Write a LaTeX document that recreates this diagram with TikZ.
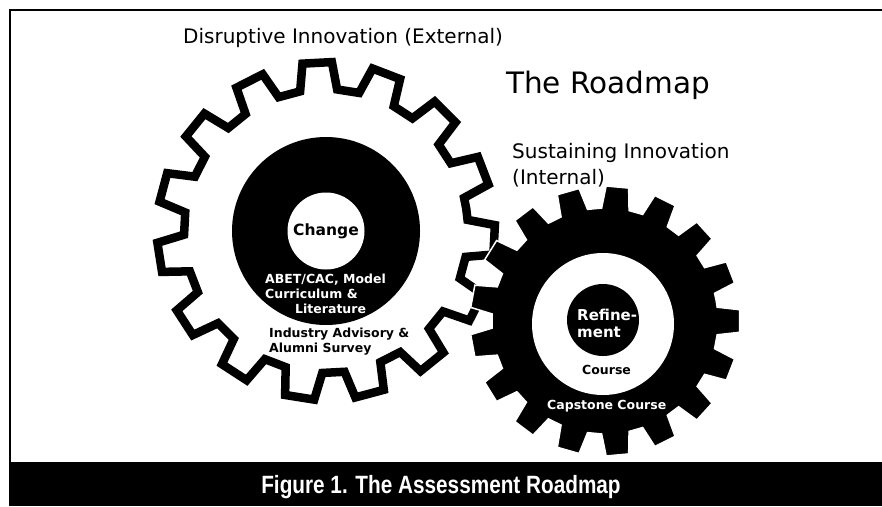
\documentclass[tikz,border=0pt]{standalone}
\usepackage{fontspec}
\usepackage{graphicx}
\setmainfont{DejaVu Sans}
\newfontfamily\capfont{Liberation Sans}
\begin{document}
\begin{tikzpicture}[x=1pt,y=-1pt,every node/.style={inner sep=0pt},
  head/.style={font=\fontsize{20}{24}\selectfont,anchor=base west},
  lbl/.style={font=\bfseries\fontsize{12.5}{15}\selectfont,anchor=base west}]
\useasboundingbox (0,0) rectangle (882,506);
\draw[line width=2.5pt] (10,462) -- (10,10) -- (882,10);
\fill (8.75,462) rectangle (882,506);

\begin{scope}[shift={(326,231)}]
\filldraw[fill=white,line width=8.5pt] (-9:142) \foreach \k in {0,...,14} {
  -- ({3+24*\k-7.5}:142) -- ({3+24*\k-5}:169) -- ({3+24*\k+5}:169) -- ({3+24*\k+7.5}:142)} -- cycle;
\end{scope}
\node[circle,fill=black,minimum size=188pt] (core) at (326,231) {};
\node[circle,fill=white,minimum size=77pt,font=\bfseries\fontsize{15.5}{18}\selectfont] (change) at (326,231) {Change};

\node[lbl,text=white] (abet) at (265,283) {ABET/CAC, Model};
\node[lbl,text=white] (curr) at (265,298) {Curriculum \&};
\node[lbl,text=white] (lit) at (295,313) {Literature};
\node[lbl] (ind) at (269,337) {Industry Advisory \&};
\node[lbl] (alum) at (269,352) {Alumni Survey};

\begin{scope}[shift={(605,321)}]
\filldraw[draw=white,line width=1.5pt] (-10.6:113) \foreach \k in {0,...,16} {
  -- ({21.176*\k-7}:113) -- ({21.176*\k-4.8}:135) -- ({21.176*\k+4.8}:135) -- ({21.176*\k+7}:113)} -- cycle;
\end{scope}
\node[circle,fill=white,minimum size=142pt] (ring) at (603,324) {};
\node[circle,fill=black,minimum size=72pt] (hub) at (603,320) {};
\node[lbl,font=\bfseries\fontsize{15}{18}\selectfont,text=white] (ref) at (577,320) {Refine-};
\node[lbl,font=\bfseries\fontsize{15}{18}\selectfont,text=white] (ref2) at (577,337) {ment};
\node[lbl] (course) at (582,374) {Course};
\node[lbl,text=white] (cap) at (547,409) {Capstone Course};

\node[head] (ext) at (183,43) {Disruptive Innovation (External)};
\node[head,font=\fontsize{29.5}{32}\selectfont] (title) at (506,93) {The Roadmap};
\node[head] (int) at (512,158) {Sustaining Innovation};
\node[head] (int2) at (512,184) {(Internal)};

\node[text=white,font=\capfont\bfseries\fontsize{25}{28}\selectfont,anchor=base] (fig) at (441,493) {\scalebox{0.83}[1]{Figure 1. The Assessment Roadmap}};
\end{tikzpicture}
\end{document}
